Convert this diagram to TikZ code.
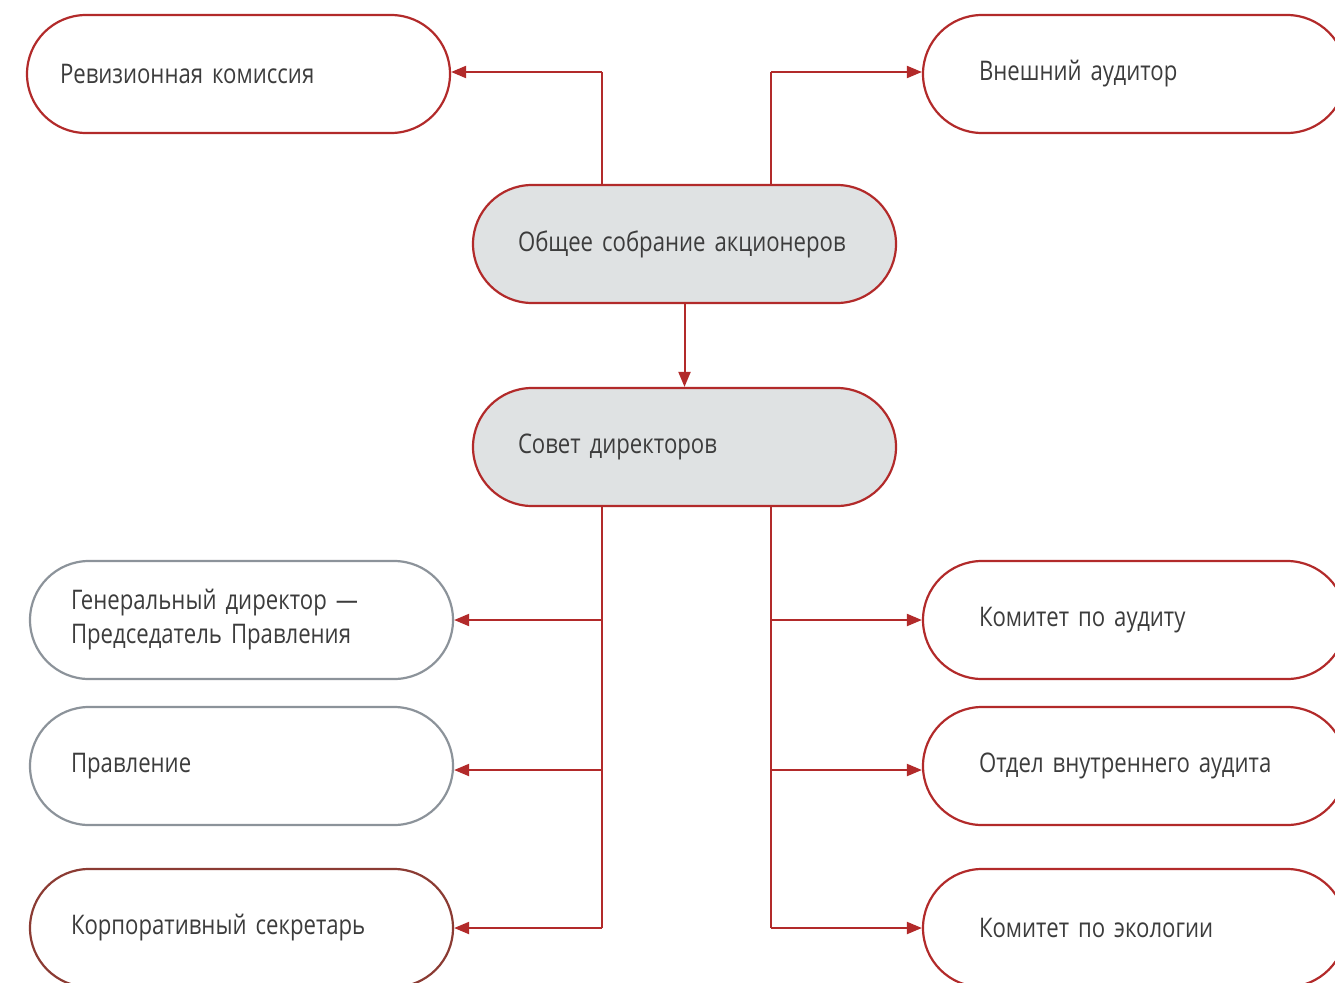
\documentclass[tikz,border=0pt]{standalone}
\usepackage{fontspec}
\setmainfont[FakeStretch=0.82]{Open Sans}
\usetikzlibrary{arrows.meta,calc}
\definecolor{cred}{HTML}{B22A2A}
\definecolor{cgray}{HTML}{8C939A}
\definecolor{cbrown}{HTML}{8B3B33}
\definecolor{cfill}{HTML}{DFE2E3}
\definecolor{ctext}{HTML}{3C3C3C}
\tikzset{
  box/.style={draw=cred, line width=2.2pt, rectangle, rounded corners=59pt,
    minimum width=423pt, minimum height=118pt, align=left,
    text=ctext, font=\fontsize{27}{34}\selectfont, inner ysep=0pt},
  pad/.style={inner xsep=#1, text width=423pt-2*#1},
  grayb/.style={draw=cgray},
  brownb/.style={draw=cbrown},
  main/.style={fill=cfill},
  conn/.style={draw=cred, line width=2pt, -{Triangle[length=15pt,width=12pt]}},
  trunk/.style={draw=cred, line width=2pt}
}
\begin{document}
\begin{tikzpicture}[x=1pt,y=-1pt]
\useasboundingbox (0,0) rectangle (1335,982);
\node[box,pad=33pt] (rev) at (238.5,74) {Ревизионная комиссия};
\node[box,pad=56pt] (ext) at (1134.5,74) {Внешний аудитор};
\node[box,main,pad=45pt] (osa) at (684.5,244) {Общее собрание акционеров};
\node[box,main,pad=45pt] (sd) at (684.5,447) {Совет директоров};
\node[box,grayb,pad=41pt] (gd) at (241.5,620) {Генеральный директор —\\Председатель Правления};
\node[box,grayb,pad=41pt] (pr) at (241.5,766) {Правление};
\node[box,brownb,pad=41pt] (ks) at (241.5,928) {Корпоративный секретарь};
\node[box,pad=56pt] (ka) at (1134.5,620) {Комитет по аудиту};
\node[box,pad=56pt] (ova) at (1134.5,766) {Отдел внутреннего аудита};
\node[box,pad=56pt] (ke) at (1134.5,928) {Комитет по экологии};
\coordinate (lt) at (602,72);
\coordinate (rt) at (771,72);
\draw[trunk] (osa.north -| lt) -- (lt);
\draw[conn] (lt) -- (rev.east |- lt);
\draw[trunk] (osa.north -| rt) -- (rt);
\draw[conn] (rt) -- (ext.west |- rt);
\draw[conn] (osa.south) -- (sd.north);
\coordinate (lb) at (602,928);
\coordinate (rb) at (771,928);
\draw[trunk] (sd.south -| lb) -- (lb);
\draw[trunk] (sd.south -| rb) -- (rb);
\draw[conn] (gd.east -| lb) -- (gd.east);
\draw[conn] (602,770) -- (pr.east |- 0,770);
\draw[conn] (lb) -- (ks.east);
\draw[conn] (ka.west -| rb) -- (ka.west);
\draw[conn] (771,770) -- (ova.west |- 0,770);
\draw[conn] (rb) -- (ke.west);
\end{tikzpicture}
\end{document}
